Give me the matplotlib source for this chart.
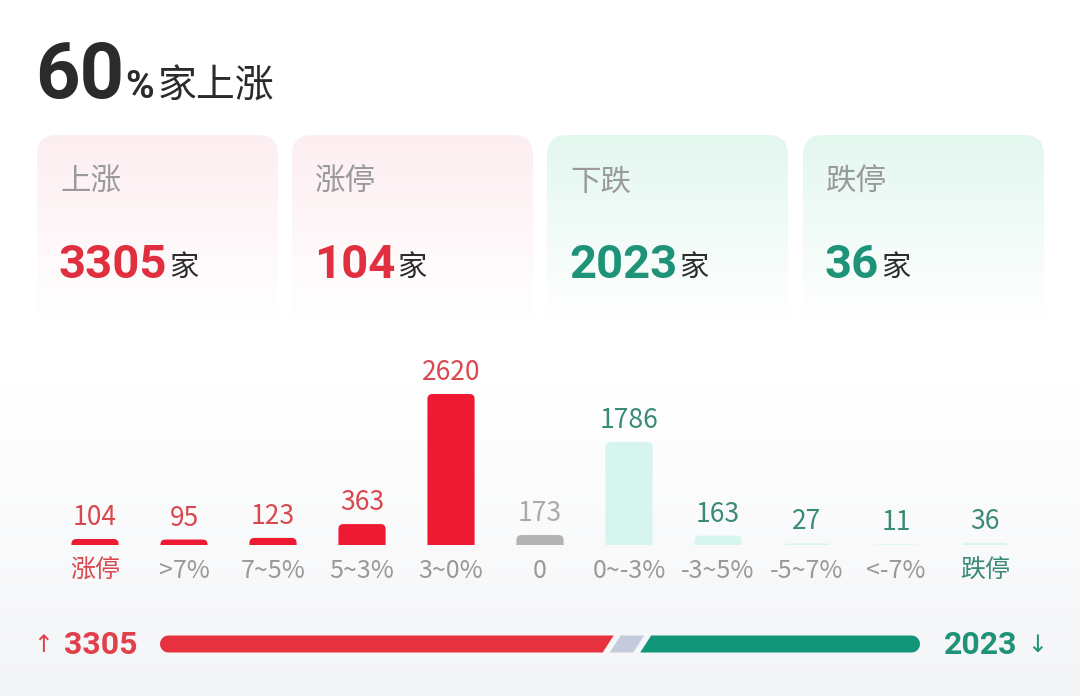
import matplotlib
matplotlib.use("Agg")
import matplotlib.pyplot as plt
import numpy as np
from matplotlib.patches import FancyBboxPatch, Polygon
from matplotlib.colors import to_rgb

plt.rcParams['font.family'] = ['Noto Sans CJK SC', 'DejaVu Sans']

# data
headline_pct = 60
card_labels = ['上涨', '涨停', '下跌', '跌停']
card_values = [3305, 104, 2023, 36]
categories = ['涨停', '>7%', '7~5%', '5~3%', '3~0%', '0', '0~-3%', '-3~5%', '-5~7%', '<-7%', '跌停']
counts = [104, 95, 123, 363, 2620, 173, 1786, 163, 27, 11, 36]
kinds = ['up', 'up', 'up', 'up', 'up', 'flat', 'down', 'down', 'down', 'down', 'down']
n_up = 3305
n_flat = 173
n_down = 2023

RED = '#EE1A33'
RED_TXT = '#E0303F'
RED_LBL = '#D9474F'
GREEN = '#13957A'
GREEN_TXT = '#1E9377'
GREEN_LBL = '#3A8A78'
MINT = '#D5F5EE'
GRAY_BAR = '#B3B3B3'
SLATE = '#C3CBDC'

W, H = 1080, 696
fig = plt.figure(figsize=(W / 100, H / 100), dpi=100)

# background, pixel coords
bg = fig.add_axes([0, 0, 1, 1])
bg.set_xlim(0, W)
bg.set_ylim(H, 0)
bg.axis('off')
grad = np.ones((H, 1, 3))
top_c = np.array(to_rgb('#FFFFFF'))
bot_c = np.array(to_rgb('#F4F5F7'))
t = np.clip((np.arange(H) - 380) / (H - 380), 0, 1)[:, None]
grad[:, 0, :] = top_c * (1 - t) + bot_c * t
bg.imshow(grad, extent=(0, W, H, 0), aspect='auto', zorder=0)


def right_edge(txt):
    fig.canvas.draw()
    bb = txt.get_window_extent().transformed(bg.transData.inverted())
    return bb.x1


# headline
t60 = bg.text(35, 98, str(headline_pct), fontsize=56, fontweight='bold', family='Roboto',
              color='#2B2B2B', va='baseline')
tp = bg.text(right_edge(t60) + 1, 98, '%', fontsize=28, fontweight='bold', family='Roboto',
             color='#2B2B2B', va='baseline')
bg.text(right_edge(tp) + 4, 98, '家上涨', fontsize=28, color='#2B2B2B', va='baseline')

# cards
card_x = [37, 292, 547, 803]
card_w = 241
for i, (lab, val) in enumerate(zip(card_labels, card_values)):
    x0 = card_x[i]
    up = i < 2
    c_top = np.array(to_rgb('#FDEEF1' if up else '#E3F7EF'))
    g = np.linspace(0, 1, 100)[:, None]
    arr = np.ones((100, 1, 3))
    arr[:, 0, :] = c_top * (1 - g) + np.array([1, 1, 1]) * g
    im = bg.imshow(arr, extent=(x0, x0 + card_w, 320, 135), aspect='auto', zorder=1)
    clip = FancyBboxPatch((x0, 135), card_w, 200, boxstyle='round,pad=0,rounding_size=20',
                          transform=bg.transData, facecolor='none', edgecolor='none')
    bg.add_patch(clip)
    im.set_clip_path(clip)
    bg.text(x0 + 23, 182, lab, fontsize=22, color='#9A9A9A', va='center', zorder=3)
    tx = bg.text(x0 + 22, 278, str(val), fontsize=34, fontweight='bold', family='Roboto',
                 color=RED_TXT if up else GREEN_TXT, va='baseline', zorder=3)
    bg.text(right_edge(tx) + 2, 276, '家', fontsize=21, color='#2B2B2B', va='baseline', zorder=3)

# bar chart axes: baseline at y=545px, 89px per category
base_px = 545
ax_h = 200
ax = fig.add_axes([40 / W, (H - base_px) / H, 1000 / W, ax_h / H])
ax.set_xlim(-55 / 89, 10 + 55 / 89)
ymax = ax_h / (151 / 2620)
ax.set_ylim(0, ymax)
ax.axis('off')

x = np.arange(len(counts))
bar_col = {'up': RED, 'flat': GRAY_BAR, 'down': MINT}
lbl_col = {'up': RED_LBL, 'flat': '#AAAAAA', 'down': GREEN_LBL}
bars = ax.bar(x, counts, width=0.53, color=[bar_col[k] for k in kinds])
r_x = 5 / 89
r_y = 5 * ymax / ax_h
for rect, k in zip(bars, kinds):
    rect.set_visible(False)
    fb = FancyBboxPatch((rect.get_x(), -2 * r_y), rect.get_width(), rect.get_height() + 2 * r_y,
                        boxstyle=f'round,pad=0,rounding_size={r_x}', mutation_aspect=r_y / r_x,
                        facecolor=bar_col[k], edgecolor='none', clip_on=True)
    ax.add_patch(fb)

for xi, v, k in zip(x, counts, kinds):
    ax.annotate(str(v), (xi, v), xytext=(0, 8), textcoords='offset pixels', ha='center',
                va='bottom', fontsize=19, color=lbl_col[k], annotation_clip=False)

for xi, c, k in zip(x, categories, kinds):
    if c == '涨停':
        col = RED_LBL
    elif c == '跌停':
        col = GREEN_LBL
    else:
        col = '#999999'
    ax.annotate(c, (xi, 0), xytext=(0, -26), textcoords='offset pixels', ha='center',
                va='center', fontsize=18, color=col, annotation_clip=False)

# bottom ratio bar
yc, hh = 644, 17
x_start, x_end = 160, 920
gap = 7
slant = 11
avail = (x_end - x_start) - 2 * gap
total = n_up + n_flat + n_down
w_up = avail * n_up / total
w_flat = avail * n_flat / total
w_down = avail * n_down / total
yt, yb = yc - hh / 2, yc + hh / 2
r = hh / 2

ang = np.linspace(np.pi / 2, 3 * np.pi / 2, 20)
x1 = x_start + w_up
left_cap = [(x_start + r + r * np.cos(a), yc - r * np.sin(a)) for a in ang]
red_poly = left_cap + [(x1 - slant / 2, yb), (x1 + slant / 2, yt)]
bg.add_patch(Polygon(red_poly, closed=True, facecolor='#E5323E', edgecolor='none', zorder=2))

x2 = x1 + gap
x3 = x2 + w_flat
bg.add_patch(Polygon([(x2 - slant / 2, yb), (x2 + slant / 2, yt), (x3 + slant / 2, yt), (x3 - slant / 2, yb)],
                     closed=True, facecolor=SLATE, edgecolor='none', zorder=2))

x4 = x3 + gap
ang2 = np.linspace(-np.pi / 2, np.pi / 2, 20)
right_cap = [(x_end - r + r * np.cos(a), yc - r * np.sin(a)) for a in ang2]
green_poly = [(x4 - slant / 2, yb)] + right_cap + [(x4 + slant / 2, yt)]
bg.add_patch(Polygon(green_poly, closed=True, facecolor=GREEN, edgecolor='none', zorder=2))

bg.text(43, 645, '↑', fontsize=17, color='#E0404A', ha='center', va='center', family='DejaVu Sans')
bg.text(64, 645, str(n_up), fontsize=23, fontweight='bold', family='Roboto', color='#E0404A', va='center')
bg.text(944, 645, str(n_down), fontsize=23, fontweight='bold', family='Roboto', color=GREEN_TXT, va='center')
bg.text(1037, 645, '↓', fontsize=17, color=GREEN_TXT, ha='center', va='center', family='DejaVu Sans')

fig.savefig('out.png', dpi=100)
